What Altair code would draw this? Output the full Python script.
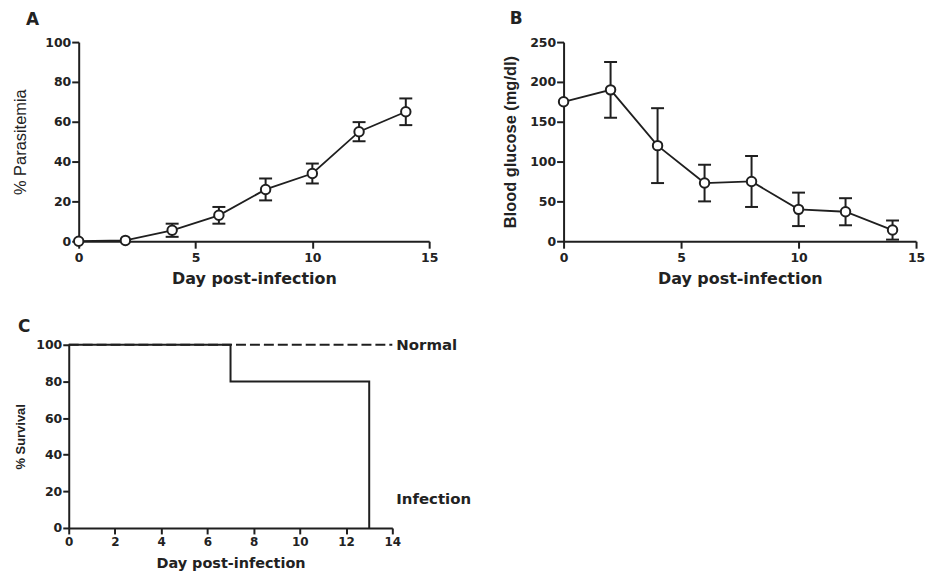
import altair as alt
import pandas as pd

# ---------------- data ----------------
days = [0, 2, 4, 6, 8, 10, 12, 14]
parasitemia = [0, 0.4, 5.5, 13, 26, 34, 55, 65]
parasitemia_err = [0, 0, 3.3, 4.2, 5.5, 5.0, 4.8, 6.7]

glucose = [175, 190, 120, 73, 75, 40, 37, 14]
glucose_err = [0, 35, 47, 23, 32, 21, 17, 12]

infection_days = [0, 7, 13]
infection_surv = [100, 80, 0]
normal_days = [0, 14]
normal_surv = [100, 100]

group_labels = ["Normal", "Infection"]
group_label_x = [14, 14]
group_label_y = [100, 16]

panel_letters = ["A", "B", "C"]

INK = "#1f1f1f"
TXT = "#222222"
BOLD_FONT = "DejaVu Sans"
TITLE_FONT = "Liberation Sans"


def x_axis(values, title_y, label_size, title_size, tick_size=7):
    return alt.Axis(
        values=values, tickCount=20, format="d", title="Day post-infection", grid=False,
        domainColor=INK, domainWidth=2, tickColor=INK, tickWidth=2, tickSize=tick_size,
        labelFont=BOLD_FONT, labelFontWeight="bold", labelFontSize=label_size,
        labelColor=TXT, labelPadding=3, labelFlush=False, labelOverlap=False,
        titleFont=BOLD_FONT, titleFontWeight="bold", titleFontSize=title_size,
        titleColor=TXT, titleY=title_y, titleBaseline="alphabetic",
    )


def y_axis(values, title, title_x, title_size, title_weight, title_font=TITLE_FONT,
           tick_size=7, offset=0):
    return alt.Axis(
        values=values, tickCount=20, format="d", title=title, grid=False, offset=offset,
        domainColor=INK, domainWidth=2, tickColor=INK, tickWidth=2, tickSize=tick_size,
        labelFont=BOLD_FONT, labelFontWeight="bold", labelFontSize=12.5,
        labelColor=TXT, labelPadding=1, labelFlush=False, labelOverlap=False,
        titleFont=title_font, titleFontWeight=title_weight, titleFontSize=title_size,
        titleColor=TXT, titleX=title_x, titleBaseline="alphabetic",
    )


def letter(ch, lx, ly):
    return alt.Chart(pd.DataFrame({"t": [ch]})).mark_text(
        align="left", baseline="alphabetic", font=BOLD_FONT, fontWeight="bold",
        fontSize=17, color=TXT,
    ).encode(x=alt.value(lx), y=alt.value(ly), text="t:N")


def mean_panel(values, errs, ydom, yvals, ytitle, title_x, title_weight, w, h, ch, lx, ly,
               shift=0):
    df = pd.DataFrame({"day": days, "val": values, "err": errs})
    xsc = alt.Scale(domain=[0, 15], nice=False, range=[shift, w + shift])
    ysc = alt.Scale(domain=ydom, nice=False)
    xax = x_axis([0, 5, 10, 15], 42, 12.5, 16)
    yax = y_axis(yvals, ytitle, title_x, 16.5, title_weight, offset=-shift)
    X = alt.X("day:Q", scale=xsc, axis=xax)
    line = alt.Chart(df).mark_line(color=INK, strokeWidth=1.8).encode(
        x=X, y=alt.Y("val:Q", scale=ysc, axis=yax))
    eb = alt.Chart(df).transform_filter("datum.err > 0").transform_calculate(
        lo="datum.val - datum.err", hi="datum.val + datum.err")
    rule = eb.mark_rule(color=INK, strokeWidth=2).encode(
        x=X, y=alt.Y("lo:Q", scale=ysc, axis=yax), y2="hi:Q")
    tlo = eb.mark_tick(orient="horizontal", size=13, thickness=2, color=INK,
                       opacity=1).encode(x=X, y=alt.Y("lo:Q", scale=ysc, axis=yax))
    thi = eb.mark_tick(orient="horizontal", size=13, thickness=2, color=INK,
                       opacity=1).encode(x=X, y=alt.Y("hi:Q", scale=ysc, axis=yax))
    pts = alt.Chart(df).mark_point(shape="circle", filled=True, fill="white", stroke=INK,
                                   strokeWidth=2, size=90, opacity=1).encode(
        x=X, y=alt.Y("val:Q", scale=ysc, axis=yax))
    return alt.layer(line, rule, tlo, thi, pts, letter(ch, lx, ly)).properties(
        width=w + shift, height=h)


panel_a = mean_panel(parasitemia, parasitemia_err, [0, 100], [0, 20, 40, 60, 80, 100],
                     "% Parasitemia", -53, "normal", 352, 200,
                     panel_letters[0], -43, -17, shift=10)
panel_b = mean_panel(glucose, glucose_err, [0, 250], [0, 50, 100, 150, 200, 250],
                     "Blood glucose (mg/dl)", -48.5, "bold", 354, 200,
                     panel_letters[1], -54, -18)

# ---------------- panel C ----------------
cx = alt.Scale(domain=[0, 14], nice=False)
cy = alt.Scale(domain=[0, 100], nice=False)
c_xaxis = x_axis([0, 2, 4, 6, 8, 10, 12, 14], 40, 12, 14.5, tick_size=6)
c_yaxis = y_axis([0, 20, 40, 60, 80, 100], "% Survival", -44, 13, "bold", tick_size=6)
CX = alt.X("day:Q", scale=cx, axis=c_xaxis)
CY = alt.Y("s:Q", scale=cy, axis=c_yaxis)

df_norm = pd.DataFrame({"day": normal_days, "s": normal_surv})
df_inf = pd.DataFrame({"day": infection_days, "s": infection_surv})
df_lab = pd.DataFrame({"day": group_label_x, "s": group_label_y, "t": group_labels})

norm = alt.Chart(df_norm).mark_line(color=INK, strokeWidth=2, strokeDash=[10, 4]).encode(
    x=CX, y=CY)
inf = alt.Chart(df_inf).mark_line(color=INK, strokeWidth=2, interpolate="step-after").encode(
    x=CX, y=CY)
labs = alt.Chart(df_lab).mark_text(align="left", baseline="middle", dx=4, font=BOLD_FONT,
                                   fontWeight="bold", fontSize=15, color=TXT).encode(
    x=CX, y=CY, text="t:N")
panel_c = alt.layer(norm, inf, labs, letter(panel_letters[2], -51, -13)).properties(
    width=325, height=184)

top = alt.hconcat(panel_a, panel_b, spacing=64)
chart = alt.vconcat(top, panel_c, spacing=32).properties(
    padding={"left": 5, "top": 1, "right": 0, "bottom": 0},
    background="white",
).configure_view(stroke=None)

chart.save("out.html", embed_options={"renderer": "svg", "actions": False})
